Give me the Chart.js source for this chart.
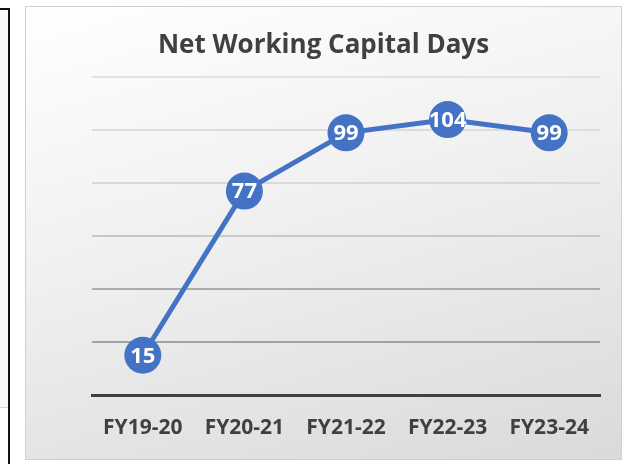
<!DOCTYPE html>
<html>
<head>
<meta charset="utf-8">
<script src="https://cdn.jsdelivr.net/npm/chart.js@4"></script>
<style>
    html, body { margin: 0; padding: 0; background: #fff; }
    body { width: 625px; height: 464px; position: relative; overflow: hidden; }
    #side {
        position: absolute; left: 0; top: 8px; width: 8px; height: 460px;
        border-top: 2px solid #111; border-right: 2px solid #111;
    }
    #side-fill {
        position: absolute; left: 0; top: 10px; width: 8px; height: 397px;
        background: #f9f9f9; border-bottom: 1px solid #d4d4d4;
    }
    #box {
        position: absolute; left: 25px; top: 6px; width: 595px; height: 452px;
        border: 1px solid #d0d0d0;
        background: linear-gradient(165deg, #ffffff 0%, #f0f0f0 45%, #dadada 100%);
    }
    #box canvas { display: block; }
</style>
</head>
<body>
<div id="side-fill"></div>
<div id="side"></div>
<div id="box"><canvas id="chart-nwc" width="595" height="452"></canvas></div>
<script>
const fiscalYears = ['FY19-20', 'FY20-21', 'FY21-22', 'FY22-23', 'FY23-24'];
const nwcDays = [15, 77, 99, 104, 99];
const yTicks = [0, 20, 40, 60, 80, 100, 120];

const blue = '#4472C4';
const ink = '#404040';
const fontFamily = "'Open Sans', Lato, sans-serif";

// Gridlines get darker towards the bottom like the original
const gridShades = { 0: 'rgba(0,0,0,0)', 20: '#a2a2a2', 40: '#acacac', 60: '#c8c8c8', 80: '#d9d9d9', 100: '#dcdcdc', 120: '#e2e2e2' };

const pointLabels = {
    id: 'pointLabels',
    afterDatasetsDraw(chart) {
        const { ctx } = chart;
        const meta = chart.getDatasetMeta(0);
        ctx.save();
        ctx.fillStyle = '#ffffff';
        ctx.font = `bold 22px ${fontFamily}`;
        ctx.textAlign = 'center';
        ctx.textBaseline = 'middle';
        meta.data.forEach((pt, i) => {
            ctx.fillText(String(nwcDays[i]), pt.x, pt.y + 1);
        });
        ctx.restore();
    },
};

new Chart(document.getElementById('chart-nwc'), {
    type: 'line',
    data: {
        labels: fiscalYears,
        datasets: [
            {
                data: nwcDays,
                borderColor: blue,
                borderWidth: 5,
                backgroundColor: blue,
                pointRadius: 18.5,
                pointBackgroundColor: blue,
                pointBorderWidth: 0,
                tension: 0,
                fill: false,
            },
        ],
    },
    options: {
        responsive: false,
        animation: false,
        layout: { padding: 0 },
        plugins: {
            legend: { display: false },
            tooltip: { enabled: false },
            title: {
                display: true,
                text: 'Net Working Capital Days',
                color: ink,
                font: { family: fontFamily, size: 26, weight: 'bold' },
                padding: { top: 23, bottom: 16 },
            },
        },
        scales: {
            x: {
                offset: true,
                grid: { display: false, drawTicks: false },
                border: { display: true, color: ink, width: 3 },
                ticks: {
                    color: ink,
                    padding: 20,
                    font: { family: fontFamily, size: 21, weight: 'bold' },
                },
                afterFit: (scale) => { scale.height = 64; },
            },
            y: {
                min: 0,
                max: 120,
                afterBuildTicks: (scale) => {
                    scale.ticks = yTicks.map((v) => ({ value: v }));
                },
                afterFit: (scale) => { scale.width = 66; },
                grid: {
                    drawTicks: false,
                    lineWidth: 2,
                    color: (c) => gridShades[c.tick.value] || '#d9d9d9',
                },
                border: { display: false },
                ticks: { display: false },
            },
            yRight: {
                position: 'right',
                grid: { display: false, drawTicks: false },
                border: { display: false },
                ticks: { display: false },
                afterFit: (scale) => { scale.width = 21; },
            },
        },
    },
    plugins: [pointLabels],
});
</script>
</body>
</html>
